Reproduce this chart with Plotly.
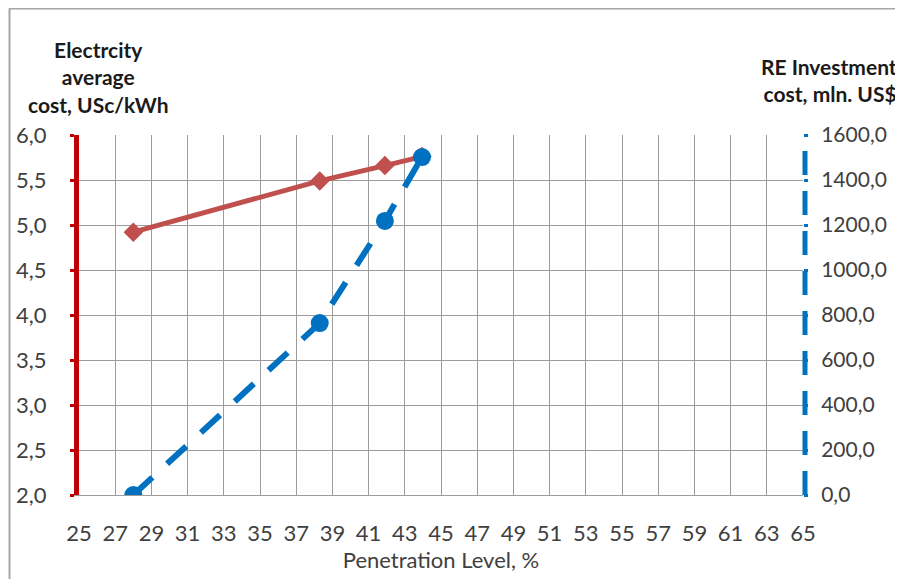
import plotly.graph_objects as go

penetration = [28.0, 38.3, 41.9, 43.95]
avg_cost = [4.92, 5.49, 5.66, 5.76]
invest_cost = [0.0, 764.0, 1218.0, 1502.0]

x_ticks = list(range(25, 66, 2))
left_ticks = [2.0, 2.5, 3.0, 3.5, 4.0, 4.5, 5.0, 5.5, 6.0]
right_ticks = [0, 200, 400, 600, 800, 1000, 1200, 1400, 1600]

FONT = "Lato"
TXT = "#404040"

# page body has an 8px margin; plot area in screenshot: x 79..803, y 135..495
W, H = 895, 571
L, T = 71, 127
PW, PH = 724, 360


def px(sx):
    return (sx - 79) / PW


def py(sy):
    return 1 - (sy - 135) / PH


fig = go.Figure()
fig.add_trace(go.Scatter(
    x=penetration, y=avg_cost, mode="lines+markers",
    line=dict(color="#c0504d", width=5),
    marker=dict(symbol="diamond", size=15, color="#c0504d"),
    yaxis="y", showlegend=False))
fig.add_trace(go.Scatter(
    x=penetration, y=invest_cost, mode="lines+markers",
    line=dict(color="#0070c0", width=6, dash="26px,20px"),
    marker=dict(symbol="circle", size=18, color="#0070c0"),
    yaxis="y2", showlegend=False))

fig.update_layout(
    width=W, height=H,
    margin=dict(l=L, r=W - L - PW, t=T, b=H - T - PH, autoexpand=False),
    paper_bgcolor="white", plot_bgcolor="white",
    separators=",.",
    font=dict(family=FONT, size=22, color=TXT),
    xaxis=dict(range=[25, 65], tickvals=x_ticks, showgrid=True,
               gridcolor="#9c9c9c", gridwidth=1, zeroline=False,
               showline=True, linecolor="#9c9c9c", linewidth=1,
               ticks="", tickfont=dict(size=22, color=TXT), ticklabelstandoff=19,
               automargin=False,
               title=dict(text="Penetration Level, %", font=dict(size=22, color=TXT), standoff=4)),
    yaxis=dict(range=[2.0, 6.0], tickvals=left_ticks, tickformat=".1f",
               showgrid=True, gridcolor="#9c9c9c", gridwidth=1, zeroline=False,
               showline=True, linecolor="#c00000", linewidth=5,
               ticks="outside", ticklen=4, tickwidth=3, tickcolor="#c00000",
               tickfont=dict(size=22, color=TXT), ticklabelstandoff=19, automargin=False),
    yaxis2=dict(range=[0, 1600], tickvals=right_ticks, tickformat=".1f",
                overlaying="y", side="right", showgrid=False, zeroline=False,
                showline=False, ticks="outside", ticklen=4, tickwidth=3,
                tickcolor="#0070c0", tickfont=dict(size=21, color=TXT),
                ticklabelstandoff=9, automargin=False),
    shapes=[
        dict(type="line", xref="paper", yref="paper", x0=px(805), x1=px(805), y0=0, y1=1,
             line=dict(color="#0070c0", width=5, dash="24px,16px"), layer="above"),
        dict(type="line", xref="paper", yref="paper", x0=px(9), x1=px(1000), y0=py(8.5), y1=py(8.5),
             line=dict(color="#a6a6a6", width=2)),
        dict(type="line", xref="paper", yref="paper", x0=px(9.5), x1=px(9.5), y0=py(700), y1=py(8.5),
             line=dict(color="#a6a6a6", width=2)),
    ],
    annotations=[
        dict(text="<b>Electrcity<br>average<br>cost, USc/kWh</b>", xref="paper", yref="paper",
             x=px(98), y=py(77), xanchor="center", yanchor="middle",
             showarrow=False, align="center", font=dict(size=21, color="#1a1a1a")),
        dict(text="<b>RE Investment<br>cost, mln. US$</b>", xref="paper", yref="paper",
             x=px(899), y=py(80), xanchor="right", yanchor="middle",
             showarrow=False, align="right", font=dict(size=21, color="#1a1a1a")),
    ],
)

fig.write_html("out.html")
